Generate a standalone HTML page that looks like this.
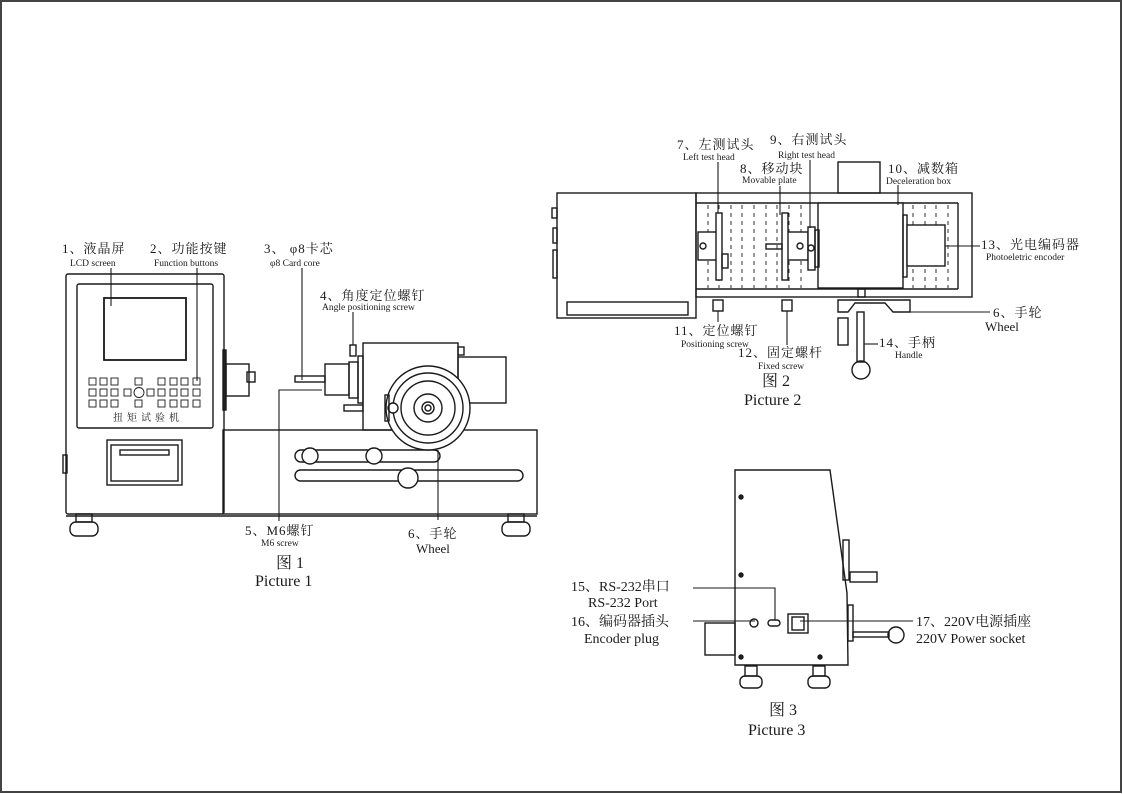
<!DOCTYPE html>
<html><head><meta charset="utf-8"><style>
html,body{margin:0;padding:0;background:#fff}
svg{display:block}
text{font-family:"Liberation Serif","Noto Serif CJK SC",serif;fill:#1a1a1a}
.c{font-size:13px;letter-spacing:1px}
.e{font-size:9.5px}
.b{font-size:16px}
</style></head><body>
<svg width="1123" height="794" viewBox="0 0 1123 794" xmlns="http://www.w3.org/2000/svg">
<rect x="1" y="1" width="1120" height="791" fill="#fff" stroke="#444" stroke-width="2"/>
<g fill="none" stroke="#1a1a1a" stroke-width="1.4">
<!-- FIG 1 -->
<rect x="66" y="274" width="158" height="240" rx="2"/>
<rect x="77" y="284" width="136" height="144" rx="2"/>
<rect x="104" y="298" width="82" height="62" stroke-width="1.8"/>
<rect x="107" y="440" width="75" height="45"/>
<rect x="111" y="445" width="67" height="36"/>
<rect x="120" y="450" width="49" height="5"/>
<rect x="63" y="455" width="4" height="18"/>
<rect x="223" y="430" width="314" height="84"/>
<line x1="66" y1="516" x2="537" y2="516"/>
<rect x="76" y="514" width="16" height="8"/><rect x="70" y="522" width="28" height="14" rx="6"/>
<rect x="508" y="514" width="16" height="8"/><rect x="502" y="522" width="28" height="14" rx="6"/>
<rect x="295" y="450" width="145" height="12" rx="6"/>
<circle cx="310" cy="456" r="8" fill="#fff"/><circle cx="374" cy="456" r="8" fill="#fff"/>
<rect x="295" y="470" width="228" height="11" rx="5.5"/>
<circle cx="408" cy="478" r="10" fill="#fff"/>
<rect x="363" y="343" width="95" height="87"/>
<rect x="458" y="357" width="48" height="46"/>
<rect x="358" y="356" width="5" height="47"/>
<rect x="349" y="362" width="9" height="36"/>
<rect x="325" y="364" width="24" height="31"/>
<rect x="295" y="376" width="30" height="6"/>
<rect x="350" y="345" width="6" height="11"/>
<rect x="344" y="405" width="19" height="6"/>
<rect x="226" y="364" width="23" height="32"/>
<rect x="223" y="350" width="3" height="60" fill="#222"/>
<rect x="247" y="372" width="8" height="10"/>
<rect x="458" y="347" width="6" height="8"/>
<circle cx="428" cy="408" r="42" fill="#fff"/>
<circle cx="428" cy="408" r="35"/>
<circle cx="428" cy="408" r="27"/>
<circle cx="428" cy="408" r="14"/>
<circle cx="428" cy="408" r="6"/>
<circle cx="428" cy="408" r="3"/>
<circle cx="393" cy="408" r="5" fill="#fff"/>
<rect x="385" y="395" width="4" height="26"/>
<g stroke-width="0.9">
<rect x="89" y="378" width="7" height="7"/><rect x="100" y="378" width="7" height="7"/><rect x="111" y="378" width="7" height="7"/>
<rect x="89" y="389" width="7" height="7"/><rect x="100" y="389" width="7" height="7"/><rect x="111" y="389" width="7" height="7"/>
<rect x="89" y="400" width="7" height="7"/><rect x="100" y="400" width="7" height="7"/><rect x="111" y="400" width="7" height="7"/>
<rect x="135" y="378" width="7" height="7"/><rect x="135" y="400" width="7" height="7"/>
<rect x="124" y="389" width="7" height="7"/><rect x="147" y="389" width="7" height="7"/><circle cx="139" cy="392.5" r="5"/>
<rect x="158" y="378" width="7" height="7"/><rect x="170" y="378" width="7" height="7"/><rect x="181" y="378" width="7" height="7"/><rect x="193" y="378" width="7" height="7"/>
<rect x="158" y="389" width="7" height="7"/><rect x="170" y="389" width="7" height="7"/><rect x="181" y="389" width="7" height="7"/><rect x="193" y="389" width="7" height="7"/>
<rect x="158" y="400" width="7" height="7"/><rect x="170" y="400" width="7" height="7"/><rect x="181" y="400" width="7" height="7"/><rect x="193" y="400" width="7" height="7"/>
</g>
<g stroke-width="1.1">
<line x1="111" y1="268" x2="111" y2="306"/>
<line x1="197" y1="268" x2="197" y2="381"/>
<line x1="302" y1="268" x2="302" y2="380"/>
<line x1="353" y1="312" x2="353" y2="345"/>
<polyline points="279,521 279,390 322,390"/>
<line x1="438" y1="450" x2="438" y2="520"/>
</g>

<!-- FIG 2 -->
<rect x="557" y="193" width="139" height="125"/>
<rect x="567" y="302" width="121" height="13"/>
<rect x="552" y="208" width="5" height="10"/><rect x="553" y="228" width="4" height="15"/><rect x="553" y="250" width="4" height="28"/>
<rect x="696" y="193" width="276" height="104"/>
<line x1="696" y1="203" x2="958" y2="203"/>
<line x1="696" y1="289" x2="958" y2="289"/>
<line x1="958" y1="203" x2="958" y2="289"/>
<g stroke-dasharray="4,4" stroke-width="0.9">
<line x1="708" y1="205" x2="708" y2="288"/><line x1="719" y1="205" x2="719" y2="288"/><line x1="731" y1="205" x2="731" y2="288"/><line x1="742" y1="205" x2="742" y2="288"/><line x1="754" y1="205" x2="754" y2="288"/><line x1="766" y1="205" x2="766" y2="288"/><line x1="777" y1="205" x2="777" y2="288"/><line x1="789" y1="205" x2="789" y2="288"/><line x1="801" y1="205" x2="801" y2="288"/><line x1="913" y1="205" x2="913" y2="288"/><line x1="925" y1="205" x2="925" y2="288"/><line x1="936" y1="205" x2="936" y2="288"/><line x1="948" y1="205" x2="948" y2="288"/>
</g>
<rect x="838" y="162" width="42" height="31"/>
<rect x="818" y="203" width="85" height="85" fill="#fff"/>
<rect x="903" y="215" width="4" height="62"/>
<rect x="907" y="225" width="38" height="41" fill="#fff"/>
<rect x="698" y="232" width="20" height="28" fill="#fff"/>
<rect x="716" y="213" width="6" height="67" fill="#fff"/>
<rect x="722" y="254" width="6" height="14"/>
<rect x="786" y="232" width="22" height="28" fill="#fff"/>
<rect x="782" y="213" width="6" height="67" fill="#fff"/>
<rect x="766" y="244" width="16" height="5"/>
<rect x="808" y="227" width="7" height="43" fill="#fff"/>
<rect x="815" y="230" width="4" height="37"/>
<circle cx="703" cy="246" r="3"/><circle cx="800" cy="246" r="3"/><circle cx="811" cy="248" r="3"/>
<rect x="713" y="300" width="10" height="11"/>
<rect x="782" y="300" width="10" height="11"/>
<rect x="858" y="289" width="7" height="8"/>
<path d="M838,300 L910,300 L910,312 L893,312 L885,303 L855,303 L848,312 L838,312 Z" fill="#fff"/>
<rect x="838" y="318" width="10" height="27"/>
<rect x="857" y="312" width="7" height="50"/>
<circle cx="861" cy="370" r="9"/>
<g stroke-width="1.1">
<line x1="718" y1="162" x2="718" y2="213"/>
<line x1="810" y1="160" x2="810" y2="228"/>
<line x1="780" y1="186" x2="780" y2="215"/>
<line x1="898" y1="185" x2="898" y2="205"/>
<line x1="945" y1="246" x2="980" y2="246"/>
<line x1="910" y1="312" x2="990" y2="312"/>
<line x1="864" y1="344" x2="878" y2="344"/>
<line x1="718" y1="311" x2="718" y2="322"/>
<line x1="787" y1="311" x2="787" y2="345"/>
</g>

<!-- FIG 3 -->
<path d="M735,470 L830,470 L847,593 L848,665 L735,665 Z"/>
<rect x="705" y="623" width="30" height="32"/>
<rect x="843" y="540" width="6" height="40"/>
<rect x="850" y="572" width="27" height="10"/>
<rect x="848" y="605" width="5" height="36"/>
<rect x="853" y="632" width="36" height="5"/>
<circle cx="896" cy="635" r="8"/>
<rect x="745" y="666" width="12" height="10"/><rect x="740" y="676" width="22" height="12" rx="5"/>
<rect x="813" y="666" width="12" height="10"/><rect x="808" y="676" width="22" height="12" rx="5"/>
<circle cx="754" cy="623" r="4"/>
<rect x="768" y="620" width="12" height="6" rx="3"/>
<rect x="788" y="614" width="20" height="19"/>
<rect x="792" y="617" width="12" height="13"/>
<circle cx="741" cy="497" r="2" fill="#222"/><circle cx="741" cy="575" r="2" fill="#222"/><circle cx="741" cy="657" r="2" fill="#222"/><circle cx="820" cy="657" r="2" fill="#222"/>
<g stroke-width="1.1">
<polyline points="693,588 775,588 775,620"/>
<line x1="693" y1="621" x2="755" y2="621"/>
<line x1="800" y1="621" x2="913" y2="621"/>
</g>
</g>

<text class="c" x="62" y="253">1、液晶屏</text>
<text class="e" x="70" y="266">LCD screen</text>
<text class="c" x="150" y="253">2、功能按键</text>
<text class="e" x="154" y="266">Function  buttons</text>
<text class="c" x="264" y="253">3、 φ8卡芯</text>
<text class="e" x="270" y="266">φ8 Card core</text>
<text class="c" x="320" y="300">4、角度定位螺钉</text>
<text class="e" x="322" y="310">Angle positioning screw</text>
<text x="113" y="421" style="font-size:10px;letter-spacing:4px">扭矩试验机</text>
<text class="c" x="245" y="535">5、M6螺钉</text>
<text class="e" x="261" y="546">M6 screw</text>
<text class="c" x="408" y="538">6、手轮</text>
<text x="416" y="553" style="font-size:13px">Wheel</text>
<text class="b" x="276" y="568">图 1</text>
<text class="b" x="255" y="586">Picture 1</text>

<text class="c" x="677" y="149">7、左测试头</text>
<text class="e" x="683" y="160">Left test head</text>
<text class="c" x="770" y="144">9、右测试头</text>
<text class="e" x="778" y="158">Right test head</text>
<text class="c" x="740" y="173">8、移动块</text>
<text class="e" x="742" y="183">Movable plate</text>
<text class="c" x="888" y="173">10、减数箱</text>
<text class="e" x="886" y="184">Deceleration box</text>
<text class="c" x="981" y="249">13、光电编码器</text>
<text class="e" x="986" y="260">Photoeletric encoder</text>
<text class="c" x="993" y="317">6、手轮</text>
<text x="985" y="331" style="font-size:13px">Wheel</text>
<text class="c" x="879" y="347">14、手柄</text>
<text class="e" x="895" y="358">Handle</text>
<text class="c" x="674" y="335">11、定位螺钉</text>
<text class="e" x="681" y="347">Positioning screw</text>
<text class="c" x="738" y="357">12、固定螺杆</text>
<text class="e" x="758" y="369">Fixed screw</text>
<text class="b" x="762" y="386">图 2</text>
<text class="b" x="744" y="405">Picture 2</text>

<text style="font-size:14px" x="571" y="591">15、RS-232串口</text>
<text style="font-size:14px" x="588" y="607">RS-232 Port</text>
<text style="font-size:14px" x="571" y="626">16、编码器插头</text>
<text style="font-size:14px" x="584" y="643">Encoder plug</text>
<text style="font-size:14px" x="916" y="626">17、220V电源插座</text>
<text style="font-size:14px" x="916" y="643">220V Power socket</text>
<text class="b" x="769" y="715">图 3</text>
<text class="b" x="748" y="735">Picture 3</text>
</svg>
</body></html>
